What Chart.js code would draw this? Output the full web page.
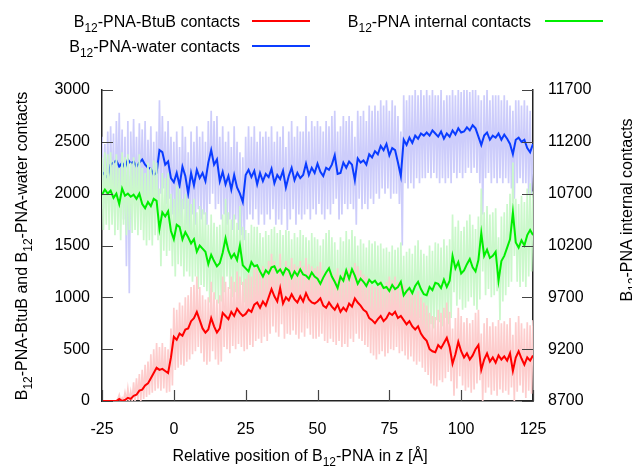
<!DOCTYPE html>
<html>
<head>
<meta charset="utf-8">
<script src="https://cdn.jsdelivr.net/npm/chart.js@4"></script>
<style>
  html, body { margin: 0; padding: 0; background: #fff; }
  canvas { display: block; }
</style>
</head>
<body>
<canvas id="myChart" width="632" height="466"></canvas>
<script>
'use strict';
// x positions: smoothed curves every 1 A, raw traces every 0.5 A, from -25 to 125
var xStart = -25;
var smoothStep = 1;
var rawStep = 0.5;
var xTicks = [-25, 0, 25, 50, 75, 100, 125];

// B12-PNA-water contacts (left axis)
var waterSmooth = [
  2210,2180,2150,2280,2300,2320,2260,2300,2250,2330,
  2290,2310,2260,2300,2330,2280,2250,2240,2180,2200,
  2420,2400,2280,2310,2150,2110,2200,2080,2260,2170,
  2000,2200,2080,2230,2150,2200,2120,2300,2420,2280,
  2330,2120,2210,2090,2170,2040,2180,2060,2000,1920,
  2180,2230,2160,2220,2090,2200,2120,2190,2160,2240,
  2100,2180,2140,2220,2060,2170,2250,2130,2200,2150,
  2180,2290,2180,2250,2200,2290,2210,2170,2250,2230,
  2280,2370,2190,2200,2300,2250,2310,2280,2130,2340,
  2300,2320,2280,2380,2350,2410,2380,2460,2420,2480,
  2370,2440,2420,2300,2170,2520,2470,2540,2490,2560,
  2530,2580,2560,2590,2560,2610,2580,2550,2600,2530,
  2580,2550,2610,2570,2630,2590,2600,2640,2610,2660,
  2630,2550,2470,2560,2590,2520,2560,2540,2580,2520,
  2570,2530,2480,2380,2520,2540,2500,2520,2440,2400,
  2480
];
var waterRaw = [
  2550,1850,2480,1900,2600,1820,2650,1950,2580,1700,
  2700,2000,2780,1880,2620,1750,2550,1300,2700,1040,
  2600,1950,2720,1900,2550,1850,2680,2000,2620,1900,
  2700,1850,2520,1950,2650,1800,2500,1750,2600,1900,
  2900,2000,2750,2050,2600,1900,2700,1950,2550,1800,
  2500,1700,2600,1750,2450,1650,2650,1850,2550,1700,
  2400,1600,2600,1800,2500,1700,2650,1850,2550,1750,
  2600,1800,2500,1700,2700,1900,2800,2000,2700,1850,
  2750,1900,2550,1750,2650,1800,2500,1700,2600,1750,
  2450,1650,2650,1750,2500,1650,2400,1600,2350,1550,
  2550,1750,2650,1800,2550,1750,2650,1850,2500,1700,
  2600,1800,2550,1700,2600,1800,2550,1750,2650,1850,
  2500,1700,2600,1750,2550,1700,2650,1850,2450,1650,
  2600,1750,2700,1850,2550,1700,2650,1800,2600,1750,
  2600,1800,2750,1850,2600,1750,2700,1850,2650,1800,
  2700,1900,2650,1800,2600,1750,2700,1850,2650,1800,
  2750,1900,2800,1950,2600,1750,2650,1800,2750,1900,
  2700,1850,2750,1900,2700,1850,2550,1700,2800,1950,
  2750,1850,2800,1900,2700,1850,2850,1950,2800,1900,
  2850,2000,2800,1950,2900,2050,2850,2000,2900,2050,
  2800,1950,2900,2000,2850,2000,2750,1900,2600,1500,
  2950,2100,2900,2050,2950,2100,2950,2050,3000,2150,
  2950,2100,3000,2150,2950,2150,3000,2200,2950,2150,
  3000,2200,2950,2150,2950,2100,3000,2150,2900,2100,
  2950,2150,2950,2100,3000,2200,2950,2150,3000,2200,
  2980,2150,3000,2200,3000,2250,2980,2200,3000,2250,
  3000,2200,2950,2100,2900,1800,2950,2150,3000,2200,
  2900,2100,2950,2150,2950,2100,2950,2150,2900,2100,
  2950,2150,2900,2100,2850,2050,2800,1950,2900,2100,
  2900,2150,2850,2100,2900,2100,2850,2000,2800,2000,
  2480
];

// B12-PNA-BtuB contacts (left axis)
var btubSmooth = [
  0,0,0,0,0,0,20,0,10,30,
  20,50,60,100,110,150,170,220,270,320,
  300,310,290,270,420,620,590,650,630,690,
  700,770,800,860,780,700,660,690,800,720,
  660,700,850,820,790,860,820,890,850,820,
  840,880,860,930,950,900,960,920,1000,1080,
  1010,960,1090,940,1000,970,1030,980,950,1010,
  960,1040,980,950,940,960,990,920,900,950,
  910,880,930,860,900,870,940,910,990,950,
  920,880,860,800,780,750,790,820,770,800,
  850,830,860,800,820,780,740,770,720,690,
  720,650,610,580,500,480,470,540,510,560,
  610,520,360,450,570,480,420,460,400,440,
  500,540,300,400,460,380,420,370,440,400,
  430,390,460,290,420,480,410,350,420,390,
  440
];
var btubRaw = [
  0,0,0,0,0,0,0,0,0,0,
  0,20,60,0,30,0,80,0,120,0,
  90,0,180,0,220,10,260,0,300,20,
  350,40,380,60,450,80,500,100,560,120,
  520,100,560,120,520,80,500,90,700,150,
  900,300,880,320,950,350,920,340,1000,380,
  1020,400,1100,450,1120,480,1200,520,1100,460,
  1020,380,980,350,1000,380,1150,480,1050,400,
  980,350,1020,380,1200,520,1150,500,1100,460,
  1200,530,1150,500,1250,550,1200,520,1150,480,
  1180,500,1220,540,1200,520,1280,580,1300,600,
  1250,560,1300,620,1260,580,1350,650,1420,720,
  1350,660,1300,620,1420,740,1280,600,1350,650,
  1300,640,1380,680,1320,640,1300,600,1350,660,
  1300,620,1380,700,1320,640,1300,600,1280,600,
  1300,620,1340,650,1260,580,1250,560,1300,600,
  1250,570,1220,540,1280,580,1200,520,1250,550,
  1220,520,1280,600,1250,570,1330,650,1300,600,
  1260,580,1220,540,1200,520,1150,460,1120,440,
  1100,400,1130,450,1160,480,1100,430,1150,460,
  1200,500,1170,490,1200,520,1150,460,1160,480,
  1120,440,1080,400,1100,430,1060,380,1030,350,
  1060,380,1000,320,950,280,920,250,850,170,
  820,150,810,140,880,200,850,180,900,220,
  950,280,860,190,700,50,800,120,900,240,
  820,150,760,100,800,130,750,80,780,110,
  850,170,880,200,650,0,750,80,800,130,
  720,60,760,100,720,50,780,110,750,80,
  770,100,740,60,800,130,640,0,760,90,
  820,150,750,80,700,30,760,100,730,70,
  780
];

// B12-PNA internal contacts (right axis)
var internalSmooth = [
  10690,10740,10700,10730,10660,10700,10600,10750,10680,10700,
  10670,10690,10650,10700,10600,10560,10620,10580,10650,10630,
  10360,10520,10480,10530,10340,10260,10400,10380,10260,10330,
  10280,10220,10260,10140,10200,10170,10140,10020,10110,10050,
  10000,10030,10130,10270,10150,10080,10120,10060,10200,10010,
  9980,9950,10040,10000,10010,9950,9900,9960,9930,9990,
  10000,9940,9970,9920,9980,9960,9890,9950,9910,9970,
  9920,9910,9880,9940,9900,9880,9830,9890,9940,9980,
  9900,9850,9790,9900,9860,9960,9880,9970,9910,9830,
  9880,9850,9810,9870,9840,9860,9820,9840,9790,9800,
  9760,9820,9780,9800,9850,9720,9760,9790,9740,9810,
  9850,9780,9730,9720,9800,9770,9840,9830,9790,9870,
  9800,9860,10100,9980,10040,9930,9960,10020,10070,9990,
  9950,10060,10320,10100,10160,10080,10100,10140,9860,10050,
  10100,10180,10260,10520,10230,10180,10250,10200,10300,10350,
  10300
];
var internalRaw = [
  11050,10350,11100,10400,11080,10350,11100,10400,11020,10300,
  11080,10350,10950,10250,11100,10400,11050,10300,11080,10350,
  11000,10320,11050,10350,11000,10300,11080,10350,10950,10250,
  10900,10200,11000,10250,10950,10200,11020,10300,11000,10250,
  10750,10000,10900,10150,10850,10100,10900,10150,10700,10000,
  10650,9900,10780,10020,10750,10000,10650,9900,10700,9950,
  10650,9900,10600,9850,10650,9900,10520,9780,10580,9820,
  10550,9800,10520,9760,10400,9650,10500,9750,10420,9680,
  10380,9640,10400,9660,10500,9750,10650,9900,10520,9780,
  10450,9700,10500,9750,10420,9680,10580,9820,10380,9650,
  10350,9620,10320,9580,10400,9660,10380,9640,10380,9640,
  10320,9580,10280,9540,10340,9600,10300,9560,10360,9620,
  10380,9640,10320,9580,10350,9600,10300,9560,10350,9620,
  10340,9600,10260,9520,10320,9580,10280,9540,10350,9600,
  10300,9560,10280,9550,10250,9520,10320,9580,10280,9540,
  10260,9520,10200,9470,10260,9530,10320,9580,10350,9620,
  10280,9540,10230,9500,10160,9430,10280,9540,10240,9500,
  10340,9600,10260,9520,10350,9600,10290,9550,10200,9480,
  10260,9520,10220,9500,10180,9450,10250,9520,10220,9480,
  10240,9500,10200,9460,10220,9480,10170,9430,10180,9440,
  10140,9400,10200,9460,10160,9420,10180,9440,10230,9490,
  10100,9360,10140,9400,10170,9430,10120,9380,10200,9460,
  10250,9500,10160,9420,10120,9360,10100,9360,10200,9440,
  10150,9400,10230,9480,10220,9460,10180,9420,10260,9500,
  10200,9440,10260,9500,10500,9750,10380,9620,10440,9680,
  10340,9580,10380,9600,10440,9660,10500,9700,10400,9620,
  10360,9580,10480,9680,10750,9950,10520,9720,10580,9780,
  10500,9700,10520,9720,10560,9760,10280,9480,10480,9660,
  10520,9720,10600,9800,10700,9850,11000,10100,10650,9850,
  10600,9800,10680,9850,10620,9800,10750,9900,10800,9950,
  10720
];

var leftTicks = [0, 500, 1000, 1500, 2000, 2500, 3000];
var rightTicks = [8700, 9200, 9700, 10200, 10700, 11200, 11700];

var FONT = '"Liberation Sans", Arial, sans-serif';
var FS = 16;

function points(step, vals){
  return vals.map(function(v, i){ return {x: xStart + i*step, y: v}; });
}

// text with subscripts: parts = [[text, isSub], ...]
function richText(ctx, parts, x, y, align){
  var widths = parts.map(function(p){
    ctx.font = (p[1] ? FS*0.75 : FS) + 'px ' + FONT;
    return ctx.measureText(p[0]).width;
  });
  var total = widths.reduce(function(a, b){ return a + b; }, 0);
  var cx = align === 'right' ? x - total : (align === 'center' ? x - total/2 : x);
  ctx.textAlign = 'left';
  ctx.textBaseline = 'alphabetic';
  parts.forEach(function(p, i){
    ctx.font = (p[1] ? FS*0.75 : FS) + 'px ' + FONT;
    ctx.fillText(p[0], cx, y + (p[1] ? 5 : 0));
    cx += widths[i];
  });
}

var labelsPlugin = {
  id: 'labelsPlugin',
  afterDraw: function(chart){
    var ctx = chart.ctx;
    var area = chart.chartArea;
    ctx.save();
    // inward tick marks
    ctx.strokeStyle = '#444';
    ctx.lineWidth = 1.2;
    ctx.beginPath();
    var sx = chart.scales.x, sy = chart.scales.y, sy1 = chart.scales.y1;
    xTicks.forEach(function(v){
      var p = Math.round(sx.getPixelForValue(v)) + 0.5;
      ctx.moveTo(p, area.bottom); ctx.lineTo(p, area.bottom - 11);
    });
    leftTicks.forEach(function(v){
      var p = Math.round(sy.getPixelForValue(v)) + 0.5;
      ctx.moveTo(area.left, p); ctx.lineTo(area.left + 11, p);
    });
    rightTicks.forEach(function(v){
      var p = Math.round(sy1.getPixelForValue(v)) + 0.5;
      ctx.moveTo(area.right, p); ctx.lineTo(area.right - 11, p);
    });
    ctx.stroke();

    ctx.fillStyle = '#000';
    // legend
    richText(ctx, [['B',0],['12',1],['-PNA-BtuB contacts',0]], 240, 27, 'right');
    richText(ctx, [['B',0],['12',1],['-PNA-water contacts',0]], 240, 52, 'right');
    richText(ctx, [['B',0],['12',1],['-PNA internal contacts',0]], 531, 27, 'right');
    ctx.lineWidth = 2;
    [['#ff0000', 252, 21], ['#0a3cff', 252, 46], ['#00ee00', 545, 21]].forEach(function(s){
      ctx.strokeStyle = s[0];
      ctx.beginPath(); ctx.moveTo(s[1], s[2]); ctx.lineTo(s[1] + 58, s[2]); ctx.stroke();
    });

    // axis titles
    richText(ctx, [['Relative position of ',0],['B',0],['12',1],['-PNA in z [Å]',0]], 300, 461, 'center');
    ctx.save();
    ctx.translate(27, 246);
    ctx.rotate(-Math.PI/2);
    richText(ctx, [['B',0],['12',1],['-PNA-BtuB and ',0],['B',0],['12',1],['-PNA-water contacts',0]], 0, 0, 'center');
    ctx.restore();
    ctx.save();
    ctx.translate(632, 210);
    ctx.rotate(-Math.PI/2);
    richText(ctx, [['B',0],['12',1],['-PNA internal contacts',0]], 0, 0, 'center');
    ctx.restore();
    ctx.restore();
  }
};

function line(data, color, width, axis, order){
  return {
    data: data, borderColor: color, borderWidth: width, yAxisID: axis, order: order,
    pointRadius: 0, fill: false, tension: 0
  };
}

var ctx = document.getElementById('myChart').getContext('2d');
var chart = new Chart(ctx, {
  type: 'line',
  data: {
    datasets: [
      line(points(rawStep, waterRaw), '#cdcdfb', 1.7, 'y', 6),
      line(points(smoothStep, waterSmooth), '#0a3cff', 2, 'y', 5),
      line(points(rawStep, internalRaw), '#cbf8cb', 1.7, 'y1', 4),
      line(points(rawStep, btubRaw), '#fdcdcd', 1.7, 'y', 3),
      line(points(smoothStep, btubSmooth), '#ff0000', 2, 'y', 2),
      line(points(smoothStep, internalSmooth), '#00ee00', 2, 'y1', 1)
    ]
  },
  options: {
    responsive: false,
    animation: false,
    devicePixelRatio: 1,
    layout: { padding: { top: 90, left: 0, right: 0, bottom: 0 } },
    plugins: { legend: { display: false }, tooltip: { enabled: false } },
    scales: {
      x: {
        type: 'linear', min: -25, max: 125,
        grid: { display: false, drawTicks: false },
        border: { display: true, color: '#222', width: 1.5 },
        ticks: { stepSize: 25, padding: 19, color: '#000', font: { family: FONT, size: FS },
          maxRotation: 0, callback: function(v){ return String(v); } },
        afterFit: function(s){ s.height = 65; }
      },
      y: {
        position: 'left', min: 0, max: 3000,
        grid: { display: false, drawTicks: false },
        border: { display: true, color: '#222', width: 1.5 },
        ticks: { stepSize: 500, padding: 12, color: '#000', font: { family: FONT, size: FS },
          callback: function(v){ return String(v); } },
        afterFit: function(s){ s.width = 102; }
      },
      y1: {
        position: 'right', min: 8700, max: 11700,
        grid: { display: false, drawTicks: false },
        border: { display: true, color: '#222', width: 1.5 },
        ticks: { stepSize: 500, padding: 15, color: '#000', font: { family: FONT, size: FS },
          callback: function(v){ return String(v); } },
        afterFit: function(s){ s.width = 99; }
      }
    }
  },
  plugins: [labelsPlugin]
});
</script>
</body>
</html>
